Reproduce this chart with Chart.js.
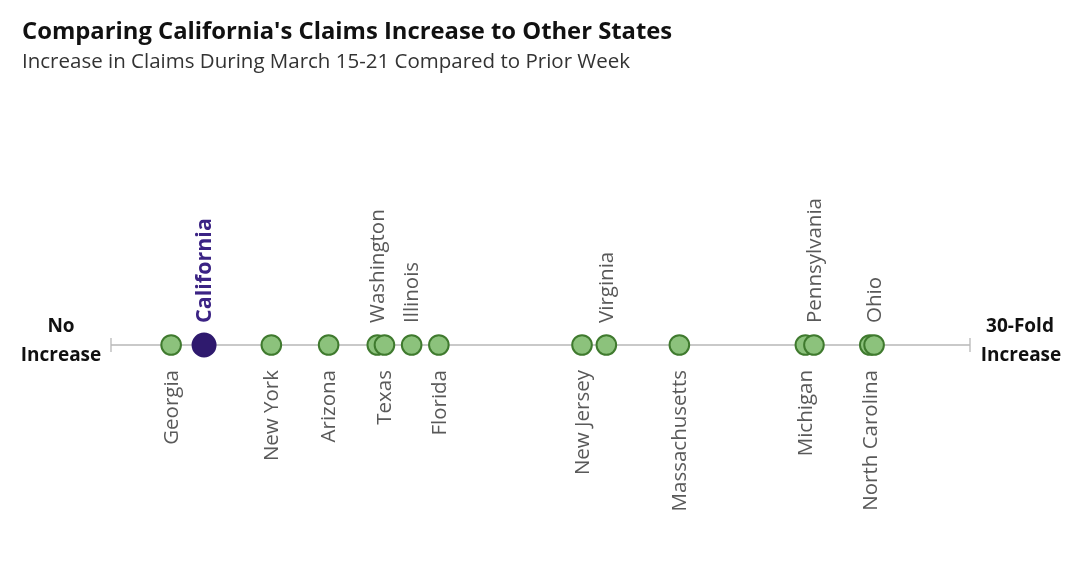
<!DOCTYPE html>
<html>
<head>
<meta charset="utf-8">
<script src="https://cdn.jsdelivr.net/npm/chart.js@4.4.1/dist/chart.umd.min.js"></script>
<style>
  html, body { margin: 0; padding: 0; background: #fff; }
  canvas { display: block; }
</style>
</head>
<body>
<canvas id="myChart" width="1089" height="562"></canvas>
<script>
// fold increase in claims, week of March 15-21 vs prior week
const states = ['Georgia', 'California', 'New York', 'Arizona', 'Washington', 'Texas', 'Illinois', 'Florida',
                'New Jersey', 'Virginia', 'Massachusetts', 'Michigan', 'Pennsylvania', 'North Carolina', 'Ohio'];
const increase = [2.1, 3.25, 5.6, 7.6, 9.3, 9.55, 10.5, 11.45, 16.45, 17.3, 19.85, 24.25, 24.55, 26.5, 26.65];
const axisMin = 0;
const axisMax = 30;
const axisEnds = ['No\nIncrease', '30-Fold\nIncrease'];

const highlight = 'California';
const labelsAbove = ['California', 'Washington', 'Illinois', 'Virginia', 'Pennsylvania', 'Ohio'];

const LINE_Y = 345;
const labelFont = '20.5px "Open Sans", sans-serif';

const dotPlot = {
    id: 'dotPlot',
    beforeDatasetsDraw(chart) {
        const ctx = chart.ctx;
        const x = chart.scales.x;
        const x0 = x.getPixelForValue(axisMin), x1 = x.getPixelForValue(axisMax);
        ctx.save();
        ctx.strokeStyle = '#b8b8b8';
        ctx.lineWidth = 1.3;
        ctx.beginPath();
        ctx.moveTo(x0, LINE_Y); ctx.lineTo(x1, LINE_Y);
        ctx.moveTo(x0, LINE_Y - 7); ctx.lineTo(x0, LINE_Y + 7);
        ctx.moveTo(x1, LINE_Y - 7); ctx.lineTo(x1, LINE_Y + 7);
        ctx.stroke();
        ctx.restore();
    },
    afterDraw(chart) {
        const ctx = chart.ctx;
        const x = chart.scales.x;
        ctx.save();

        // title + subtitle
        ctx.textBaseline = 'alphabetic';
        ctx.textAlign = 'left';
        ctx.fillStyle = '#111';
        ctx.font = 'bold 23.8px "Open Sans", sans-serif';
        ctx.fillText("Comparing California's Claims Increase to Other States", 22, 39);
        ctx.fillStyle = '#333';
        ctx.font = '20.5px "Open Sans", sans-serif';
        ctx.fillText('Increase in Claims During March 15-21 Compared to Prior Week', 22, 68);

        // axis end labels
        ctx.fillStyle = '#111';
        ctx.font = 'bold 19px "Open Sans", sans-serif';
        ctx.textAlign = 'center';
        ctx.textBaseline = 'middle';
        const l = axisEnds[0].split('\n'), r = axisEnds[1].split('\n');
        ctx.fillText(l[0], 61, 327); ctx.fillText(l[1], 61, 356);
        ctx.fillText(r[0], 1020, 327); ctx.fillText(r[1], 1021, 356);

        // state labels, rotated
        states.forEach((s, i) => {
            const px = x.getPixelForValue(increase[i]) + 1;
            const up = labelsAbove.includes(s);
            ctx.save();
            ctx.translate(px, up ? 323 : 370);
            ctx.rotate(-Math.PI / 2);
            ctx.textBaseline = 'middle';
            ctx.textAlign = up ? 'left' : 'right';
            if (s === highlight) {
                ctx.font = 'bold 21.5px "Open Sans", sans-serif';
                ctx.fillStyle = '#3b2384';
            } else {
                ctx.font = labelFont;
                ctx.fillStyle = '#595959';
            }
            ctx.fillText(s, 0, 0);
            ctx.restore();
        });
        ctx.restore();
    }
};

const ctx = document.getElementById('myChart').getContext('2d');
const chart = new Chart(ctx, {
    type: 'scatter',
    data: {
        datasets: [{
            data: states.map((s, i) => ({ x: increase[i], y: 0 })),
            backgroundColor: states.map(s => s === highlight ? '#2f1a6e' : '#8cc27c'),
            borderColor: states.map(s => s === highlight ? '#2f1a6e' : '#3f7a2e'),
            borderWidth: 2,
            pointRadius: states.map(s => s === highlight ? 11.5 : 9.8),
            pointHoverRadius: states.map(s => s === highlight ? 11.5 : 9.8)
        }]
    },
    options: {
        responsive: false,
        animation: false,
        layout: { padding: { left: 111, right: 119, top: 300, bottom: 172 } },
        plugins: { legend: { display: false }, tooltip: { enabled: false } },
        scales: {
            x: { type: 'linear', min: axisMin, max: axisMax, display: false },
            y: { min: -1, max: 1, display: false }
        }
    },
    plugins: [dotPlot]
});
</script>
</body>
</html>
